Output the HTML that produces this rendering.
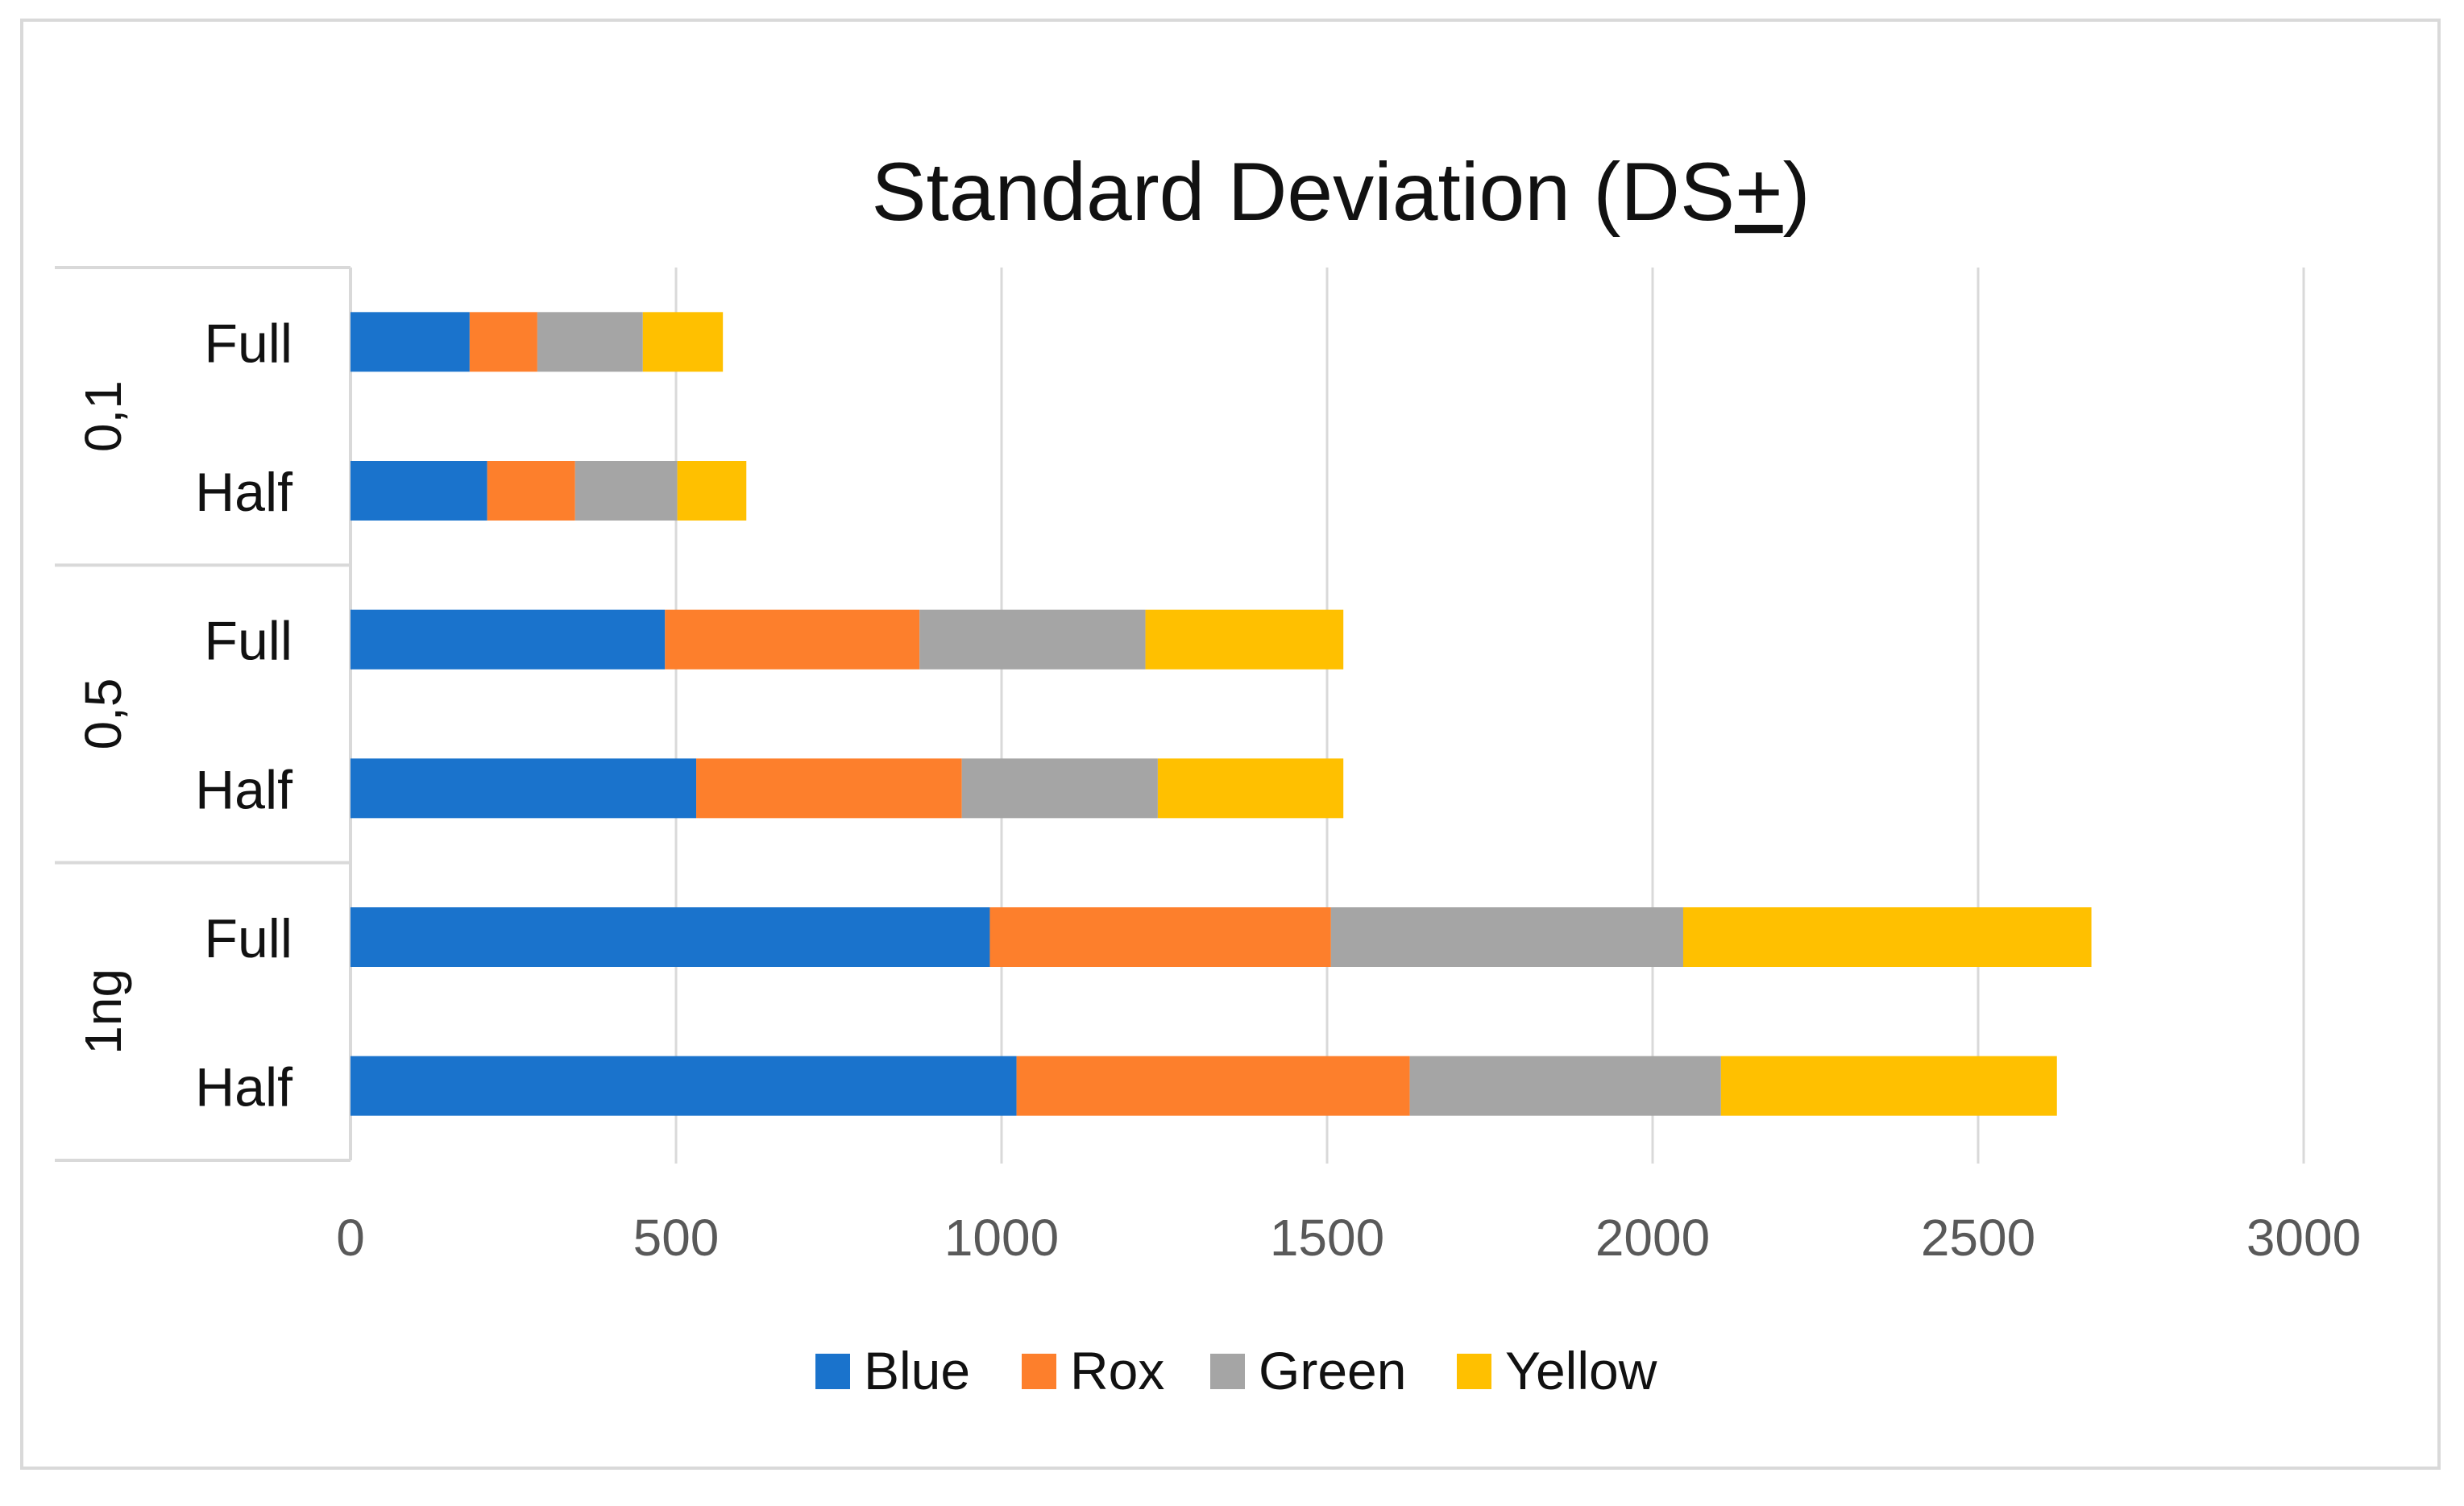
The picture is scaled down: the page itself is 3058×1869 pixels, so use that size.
<!DOCTYPE html>
<html><head><meta charset="utf-8"><style>
html,body{margin:0;padding:0;background:#fff;}
svg{display:block;font-family:"Liberation Sans",sans-serif;}
</style></head><body>
<svg id="chart" width="3058" height="1869" viewBox="0 0 3058 1869">
<rect x="27" y="25" width="3000" height="1797" fill="#fff" stroke="#d9d9d9" stroke-width="4"/>
<text x="1664" y="273" text-anchor="middle" font-size="102" fill="#111">Standard Deviation (DS<tspan text-decoration="underline">+</tspan>)</text>
<g id="grid"></g><g id="bars"></g><g id="cats"></g><g id="ticks"></g><g id="legend"></g>
</svg>
<script>
const groups=["0,1","0,5","1ng"];
const rows=["Full","Half","Full","Half","Full","Half"];
const seriesNames=["Blue","Rox","Green","Yellow"];
const blueVals=[183,210,483,531,982,1023];
const roxVals=[104,135,391,408,524,604];
const greenVals=[162,157,347,301,541,478];
const yellowVals=[123,106,304,285,627,516];
const tickVals=[0,500,1000,1500,2000,2500,3000];
const colors=["#1a73cc","#fd7f2c","#a5a5a5","#ffc000"];
const NS="http://www.w3.org/2000/svg";
const X0=435,XS=(2859-435)/3000,TOP=332,BOT=1440;
const x=v=>X0+v*XS;
const band=(BOT-TOP)/rows.length;
const y=i=>TOP+band*(i+0.5);
function mk(t,a,p){const e=document.createElementNS(NS,t);for(const k in a)e.setAttribute(k,a[k]);p.appendChild(e);return e;}
const grid=document.getElementById('grid');
tickVals.forEach(v=>{if(v===0)return;const l=mk('line',{x1:x(v),x2:x(v),y1:TOP,y2:BOT+4,stroke:'#d9d9d9','stroke-width':3},grid);

});
const ax=mk('line',{x1:X0,x2:X0,y1:TOP,y2:BOT,stroke:'#d9d9d9','stroke-width':4},grid);


[0,1,2,3].forEach(i=>{const yy=TOP+i*2*band;const l=mk('line',{x1:68,x2:X0,y1:yy,y2:yy,stroke:'#d9d9d9','stroke-width':4},grid);

});
const bars=document.getElementById('bars');
const all=[blueVals,roxVals,greenVals,yellowVals];
rows.forEach((r,i)=>{let acc=0;all.forEach((arr,s)=>{const v=arr[i];
const b=mk('rect',{x:x(acc),y:y(i)-37,width:v*XS,height:74,fill:colors[s]},bars);


acc+=v;});});
const cats=document.getElementById('cats');
rows.forEach((r,i)=>{const t=mk('text',{x:363,y:y(i)+25,'text-anchor':'end','font-size':68,fill:'#111'},cats);t.textContent=r;

});
groups.forEach((g,k)=>{const cy=TOP+band*(2*k+1);const t=mk('text',{x:0,y:0,'text-anchor':'middle','font-size':64,fill:'#111',transform:`translate(150,${cy}) rotate(-90)`},cats);t.textContent=g;

});
const ticks=document.getElementById('ticks');
tickVals.forEach(v=>{const t=mk('text',{x:x(v),y:1558,'text-anchor':'middle','font-size':64,fill:'#595959'},ticks);t.textContent=v;

});
const leg=document.getElementById('legend');
const lx=[1012,1268,1502,1808];
seriesNames.forEach((n,s)=>{const g=mk('g',{},leg);


mk('rect',{x:lx[s],y:1680,width:43,height:44,fill:colors[s]},g);
const t=mk('text',{x:lx[s]+60,y:1724,'font-size':66,fill:'#111'},g);t.textContent=n;});
</script>
</body></html>
